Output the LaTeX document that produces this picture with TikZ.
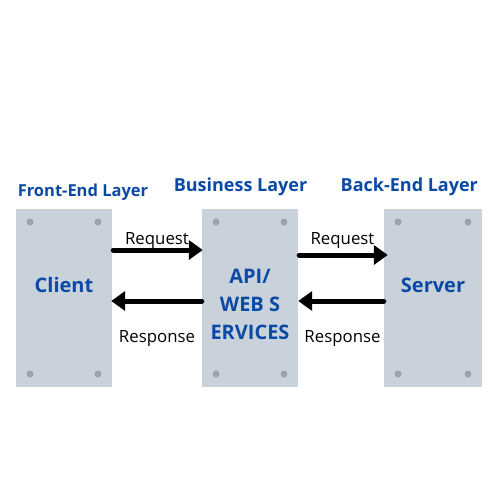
\documentclass[tikz,border=0pt]{standalone}
\usepackage{fontspec}
\setmainfont{Open Sans}
\usetikzlibrary{arrows.meta,positioning}
\definecolor{panelgray}{HTML}{C9D1DB}
\definecolor{dotgray}{HTML}{9AA3AD}
\definecolor{textblue}{HTML}{0A4AA6}
\tikzset{
  panel/.style={fill=panelgray, draw=none, minimum width=#1, minimum height=178pt, inner sep=0pt},
  panel/.default=96pt,
  title/.style={font=\bfseries\fontsize{20}{28}\selectfont, text=textblue, align=center},
  layer/.style={font=\bfseries\fontsize{#1}{20}\selectfont, text=textblue, anchor=base},
  layer/.default=18,
  lbl/.style={font=\fontsize{16.8}{18}\selectfont, text=black, anchor=base},
  flow/.style={line width=5pt, line cap=round, -{Triangle[length=14pt,width=19pt]}},
  dot/.style={circle, fill=dotgray, draw=none, minimum size=7pt, inner sep=0pt}
}
\begin{document}
\begin{tikzpicture}[x=1pt,y=-1pt]
\path[use as bounding box, fill=white] (0,0) rectangle (500,500);
% panels
\node[panel] (client) at (64,298) {};
\node[panel] (api) at (250,298) {};
\node[panel=98pt] (server) at (433,298) {};
% dots
\foreach \p/\dx in {client/34, api/34, server/35}{
  \node[dot] at ([xshift=-\dx pt, yshift=76pt]\p.center) {};
  \node[dot] at ([xshift=\dx pt, yshift=76pt]\p.center) {};
  \node[dot] at ([xshift=-\dx pt, yshift=-76pt]\p.center) {};
  \node[dot] at ([xshift=\dx pt, yshift=-76pt]\p.center) {};
}
% panel texts
\node[title] (clientt) at (64,285) {Client};
\node[title] (servert) at (433,285) {Server};
\node[title] (apit) at (250,304) {API/\\WEB S\\ERVICES};
% layer headings
\node[layer=16.5] (l1) at (83,196) {Front-End Layer};
\node[layer] (l2) at (240.5,191.3) {Business Layer};
\node[layer] (l3) at (409.3,191.3) {Back-End Layer};
% arrows
\draw[flow] ([xshift=1pt,yshift=48pt]client.east) -- ([xshift=1pt,yshift=48pt]api.west);
\draw[flow] ([yshift=-3pt]api.west) -- ([xshift=-1pt,yshift=-3pt]client.east);
\draw[flow] ([xshift=1pt,yshift=43pt]api.east) -- ([xshift=4pt,yshift=43pt]server.west);
\draw[flow] ([yshift=-3pt]server.west) -- ([yshift=-3pt]api.east);
% labels
\node[lbl] (req1) at (157,244) {Request};
\node[lbl] (res1) at (157,342.7) {Response};
\node[lbl] (req2) at (342.5,244) {Request};
\node[lbl] (res2) at (342.5,342.7) {Response};
\end{tikzpicture}
\end{document}
